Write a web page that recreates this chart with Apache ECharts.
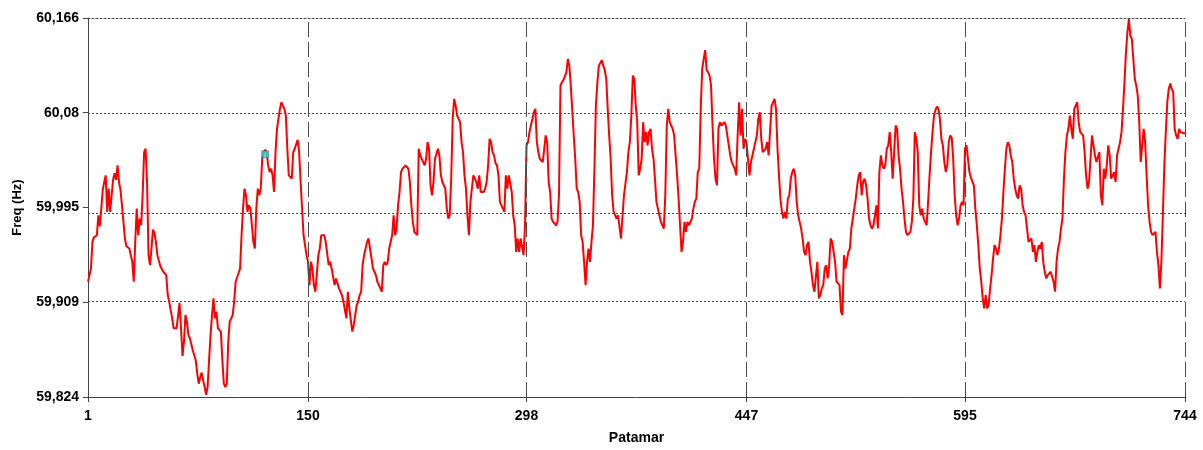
<!DOCTYPE html>
<html>
<head>
<meta charset="utf-8">
<script src="https://cdn.jsdelivr.net/npm/echarts@6/dist/echarts.min.js"></script>
<style>
html,body{margin:0;padding:0;background:#fff;}
#chart{width:1203px;height:450px;}
</style>
</head>
<body>
<div id="chart"></div>
<script>
// Patamar (hour index) readings and frequency values
const patamar = [
1,2,3,4,5,7,8,9,10,11,
12,13,14,15,16,17,18,19,20,21,
22,23,24,25,26,27,28,29,30,31,
32,33,34,35,36,37,38,39,40,41,
42,43,44,45,46,47,48,50,52,54,
55,56,57,58,59,61,62,63,64,65,
66,67,68,69,70,72,74,75,76,77,
78,79,80,81,82,83,84,85,86,87,
88,89,91,92,93,94,95,96,97,99,
100,101,102,104,105,106,107,108,109,110,
111,113,114,115,116,117,118,119,120,121,
122,123,124,125,126,127,128,129,131,132,
133,134,135,136,137,138,139,140,141,142,
143,144,145,146,147,148,149,150,151,152,
153,154,155,157,158,159,161,162,164,165,
166,168,169,171,173,174,176,177,178,180,
181,183,184,185,186,187,188,190,191,192,
193,194,195,196,197,199,200,201,202,203,
204,205,207,208,209,210,211,212,213,214,
216,217,218,219,220,221,222,224,225,226,
228,229,230,231,232,233,234,235,236,238,
239,240,241,243,244,245,246,247,248,249,
250,251,253,254,255,256,257,258,259,260,
261,262,263,264,265,266,267,269,270,271,
272,273,274,275,276,277,278,279,280,281,
282,283,284,285,286,288,289,290,291,292,
293,294,296,297,298,299,300,301,302,303,
304,305,306,307,309,310,311,312,313,314,
315,316,318,319,320,321,322,323,324,325,
326,327,328,330,331,332,333,334,335,336,
337,338,339,340,341,342,343,344,345,346,
347,349,350,351,352,353,354,355,356,357,
359,360,361,362,363,364,366,367,368,369,
370,371,372,373,374,375,376,377,378,379,
380,381,382,383,384,385,386,387,388,389,
390,391,392,393,394,395,396,397,398,399,
400,401,402,403,404,405,406,407,408,410,
411,412,413,414,415,416,417,418,419,420,
421,422,423,424,425,426,427,428,429,430,
431,432,433,434,435,436,437,438,439,440,
441,442,443,444,445,446,447,448,449,450,
451,452,453,454,455,456,457,458,459,460,
461,462,463,464,465,466,467,468,469,470,
471,472,473,474,475,476,477,478,479,480,
481,482,483,484,485,486,487,488,489,490,
491,492,493,494,495,496,497,498,499,500,
501,502,503,504,505,506,507,508,509,510,
511,512,513,514,515,516,517,518,519,520,
521,522,523,524,525,526,527,528,529,530,
531,532,533,534,535,536,537,538,539,540,
541,542,543,544,545,546,547,548,549,550,
551,552,553,554,555,556,557,558,559,560,
561,562,563,564,565,566,567,568,569,570,
571,572,573,574,575,576,577,578,579,580,
581,582,583,584,585,586,587,588,589,590,
591,592,593,594,595,596,597,598,599,600,
601,602,603,604,605,606,607,608,609,610,
611,612,613,614,615,616,617,618,619,620,
621,622,623,624,625,626,627,628,629,630,
631,632,633,634,635,636,637,638,639,640,
641,642,643,644,645,646,647,648,649,650,
651,652,653,654,655,656,657,658,659,660,
661,662,663,664,665,666,667,668,669,670,
671,672,673,674,675,676,677,678,679,680,
681,682,683,684,685,686,687,688,689,690,
691,692,693,694,695,696,697,698,699,700,
701,702,703,704,705,706,707,708,709,710,
711,712,713,714,715,716,717,718,719,720,
721,722,723,724,725,726,727,728,729,730,
731,732,733,734,735,736,737,738,739,740,
741,742,743,744
];
const freqHz = [
59.928,59.934,59.940,59.964,59.968,59.970,59.988,59.978,59.994,60.011,
60.018,60.024,59.991,60.012,59.991,60.006,60.020,60.026,60.020,60.033,
60.018,60.011,59.997,59.982,59.967,59.960,59.960,59.958,59.958,59.946,
59.928,59.964,59.994,59.970,59.985,59.979,60.006,60.045,60.048,60.018,
59.952,59.943,59.958,59.975,59.972,59.964,59.952,59.942,59.937,59.934,
59.916,59.910,59.910,59.895,59.886,59.886,59.886,59.909,59.886,59.861,
59.874,59.898,59.892,59.880,59.877,59.866,59.857,59.845,59.836,59.842,
59.846,59.839,59.833,59.826,59.833,59.857,59.880,59.898,59.913,59.895,
59.901,59.886,59.883,59.857,59.836,59.833,59.836,59.874,59.892,59.898,
59.910,59.928,59.928,59.940,59.970,59.994,60.012,60.006,59.991,59.997,
59.994,59.964,59.958,59.994,60.012,60.006,60.012,60.039,60.045,60.047,
60.045,60.033,60.027,60.030,60.024,60.009,60.045,60.066,60.084,60.090,
60.087,60.084,60.078,60.048,60.024,60.023,60.021,60.045,60.048,60.048,
60.056,60.045,60.018,59.994,59.970,59.961,59.952,59.946,59.925,59.946,
59.940,59.925,59.919,59.952,59.958,59.970,59.970,59.964,59.943,59.946,
59.940,59.925,59.931,59.922,59.916,59.910,59.895,59.919,59.904,59.883,
59.889,59.907,59.910,59.916,59.919,59.943,59.952,59.964,59.967,59.958,
59.949,59.940,59.937,59.934,59.928,59.922,59.919,59.943,59.946,59.943,
59.946,59.958,59.970,59.988,59.970,59.976,59.997,60.009,60.027,60.030,
60.033,60.033,60.030,60.018,59.997,59.982,59.973,59.970,60.048,60.042,
60.036,60.033,60.039,60.054,60.048,60.015,60.006,60.018,60.039,60.048,
60.042,60.024,60.018,60.012,59.994,59.985,59.988,60.021,60.075,60.093,
60.087,60.078,60.072,60.054,60.045,60.024,60.012,59.988,59.970,60.000,
60.012,60.024,60.021,60.018,60.012,60.024,60.009,60.009,60.012,60.018,
60.033,60.057,60.054,60.045,60.042,60.035,60.033,60.024,60.000,59.997,
59.994,59.991,60.024,60.012,60.024,60.009,59.988,59.979,59.955,59.967,
59.955,59.967,59.952,59.979,60.051,60.054,60.063,60.069,60.075,60.081,
60.084,60.054,60.045,60.039,60.036,60.048,60.060,60.054,60.018,60.009,
59.985,59.982,59.979,59.982,60.006,60.105,60.108,60.110,60.111,60.117,
60.129,60.123,60.105,60.060,60.039,60.012,60.009,60.000,59.970,59.964,
59.946,59.925,59.946,59.958,59.946,59.964,59.979,60.030,60.087,60.108,
60.123,60.128,60.123,60.119,60.111,60.084,60.060,60.039,60.006,59.991,
59.985,59.988,59.988,59.967,59.967,60.006,60.027,60.045,60.054,60.078,
60.114,60.111,60.087,60.072,60.024,60.030,60.039,60.072,60.054,60.063,
60.051,60.063,60.066,60.048,60.039,60.021,60.000,59.994,59.988,59.982,
59.979,59.976,60.006,60.069,60.084,60.072,60.069,60.066,60.060,60.042,
60.024,60.003,59.979,59.955,59.964,59.982,59.973,59.982,59.979,59.985,
59.994,60.000,60.003,60.027,60.030,60.084,60.120,60.129,60.137,60.119,
60.117,60.114,60.105,60.069,60.039,60.021,60.015,60.066,60.072,60.069,
60.069,60.072,60.069,60.060,60.051,60.042,60.036,60.036,60.030,60.024,
60.060,60.090,60.060,60.084,60.048,60.057,60.054,60.039,60.024,60.036,
60.042,60.042,60.054,60.060,60.075,60.081,60.057,60.045,60.045,60.048,
60.054,60.042,60.042,60.087,60.090,60.093,60.084,60.048,60.024,60.003,
59.991,59.985,59.991,59.985,60.003,60.006,60.021,60.027,60.030,60.024,
60.000,59.988,59.982,59.976,59.967,59.955,59.952,59.961,59.964,59.946,
59.937,59.925,59.919,59.919,59.946,59.913,59.916,59.922,59.925,59.940,
59.943,59.931,59.943,59.967,59.964,59.955,59.946,59.928,59.928,59.925,
59.901,59.898,59.952,59.940,59.940,59.955,59.958,59.976,59.985,59.994,
60.003,60.015,60.024,60.027,60.006,60.018,60.021,60.015,60.003,59.985,
59.979,59.976,59.979,59.988,59.997,59.976,60.027,60.042,60.033,60.030,
60.033,60.048,60.051,60.063,60.045,60.021,60.021,60.069,60.066,60.042,
60.030,60.012,60.000,59.985,59.973,59.970,59.970,59.973,59.982,60.003,
60.063,60.057,60.045,59.997,59.988,59.994,59.985,59.982,59.979,60.000,
60.024,60.045,60.063,60.078,60.083,60.086,60.084,60.075,60.057,60.051,
60.036,60.027,60.033,60.054,60.060,60.058,60.039,60.006,59.988,59.979,
59.985,59.997,60.000,59.997,60.048,60.051,60.039,60.027,60.022,60.021,
60.015,59.994,59.979,59.961,59.940,59.928,59.913,59.904,59.916,59.904,
59.907,59.922,59.934,59.949,59.961,59.958,59.952,59.958,59.970,59.985,
60.009,60.030,60.048,60.054,60.051,60.042,60.036,60.021,60.012,60.006,
60.003,60.015,60.012,59.997,59.991,59.988,59.976,59.964,59.964,59.967,
59.955,59.961,59.946,59.955,59.961,59.958,59.964,59.946,59.937,59.931,
59.934,59.934,59.937,59.937,59.928,59.919,59.946,59.958,59.964,59.976,
59.985,60.021,60.045,60.060,60.066,60.078,60.066,60.057,60.084,60.087,
60.090,60.072,60.063,60.063,60.060,60.045,60.024,60.012,60.018,60.039,
60.060,60.060,60.042,60.036,60.036,60.045,60.006,59.997,60.030,60.021,
60.033,60.051,60.042,60.021,60.024,60.027,60.018,60.042,60.048,60.054,
60.063,60.084,60.108,60.135,60.153,60.165,60.150,60.147,60.129,60.111,
60.105,60.096,60.072,60.036,60.051,60.066,60.054,60.024,59.997,59.982,
59.973,59.970,59.970,59.973,59.955,59.943,59.922,59.946,59.988,60.033,
60.063,60.090,60.102,60.107,60.102,60.099,60.066,60.060,60.057,60.066,
60.063,60.063,60.062,60.062
];
// highlighted point (cyan marker)
const markerPoint = [121, 60.043];

// axis ticks
const xTicks = [1, 150, 298, 447, 595, 744];
const yTicks = [59.824, 59.9095, 59.995, 60.0805, 60.166];
const yTickLabels = ['59,824', '59,909', '59,995', '60,08', '60,166'];
const xMin = 1, xMax = 744, yMin = 59.824, yMax = 60.166;

const seriesData = patamar.map((p, i) => [p, freqHz[i]]);

const FONT = "'Liberation Sans', Arial, sans-serif";
const chart = echarts.init(document.getElementById('chart'), null, {renderer: 'canvas'});

const gridLines = [];
xTicks.slice(1).forEach(v => gridLines.push({
  xAxis: v,
  lineStyle: {type: [15, 5], color: '#4a4a4a', width: 1}
}));
yTicks.slice(1, -1).forEach(v => gridLines.push({
  yAxis: v,
  lineStyle: {type: [2, 2], color: '#4a4a4a', width: 1}
}));

chart.setOption({
  animation: false,
  backgroundColor: '#ffffff',
  grid: {left: 88, right: 18, top: 18, bottom: 50, containLabel: false},
  xAxis: [{
    type: 'value',
    min: xMin, max: xMax,
    name: 'Patamar',
    nameLocation: 'middle',
    nameGap: 34,
    nameTextStyle: {fontFamily: FONT, fontWeight: 'bold', fontSize: 14, color: '#000'},
    axisLine: {show: true, lineStyle: {color: '#444', width: 1}},
    axisTick: {show: true, length: 5, customValues: xTicks, lineStyle: {color: '#444'}},
    axisLabel: {
      customValues: xTicks,
      margin: 12,
      fontFamily: FONT, fontWeight: 'bold', fontSize: 14, color: '#000',
      formatter: v => String(v)
    },
    splitLine: {show: false}
  }, {
    // top border of the plot: dotted gridline at the y maximum
    type: 'value',
    position: 'top',
    min: xMin, max: xMax,
    axisLine: {show: true, lineStyle: {color: '#4a4a4a', width: 1, type: [2, 2]}},
    axisTick: {show: false},
    axisLabel: {show: false},
    splitLine: {show: false}
  }],
  yAxis: {
    type: 'value',
    min: yMin, max: yMax,
    name: 'Freq (Hz)',
    nameLocation: 'middle',
    nameGap: 64,
    nameRotate: 90,
    nameTextStyle: {fontFamily: FONT, fontWeight: 'bold', fontSize: 13, color: '#000'},
    axisLine: {show: true, lineStyle: {color: '#444', width: 1}},
    axisTick: {show: true, length: 5, customValues: yTicks, lineStyle: {color: '#444'}},
    axisLabel: {
      customValues: yTicks,
      margin: 9,
      fontFamily: FONT, fontWeight: 'bold', fontSize: 14, color: '#000',
      formatter: v => {
        let best = 0, bd = Infinity;
        yTicks.forEach((t, i) => { const d = Math.abs(t - v); if (d < bd) { bd = d; best = i; } });
        return yTickLabels[best];
      }
    },
    splitLine: {show: false}
  },
  series: [
    {
      type: 'line',
      z: 1,
      data: [],
      silent: true,
      markLine: {
        silent: true,
        symbol: ['none', 'none'],
        label: {show: false},
        emphasis: {disabled: true},
        animation: false,
        data: gridLines
      }
    },
    {
      type: 'line',
      z: 3,
      data: seriesData,
      showSymbol: false,
      symbol: 'none',
      lineStyle: {color: '#ff0000', width: 2},
      itemStyle: {color: '#ff0000'},
      silent: true
    },
    {
      type: 'scatter',
      z: 4,
      data: [markerPoint],
      symbol: 'rect',
      symbolSize: 7,
      itemStyle: {color: '#1ed8d8', borderColor: '#2a5a5a', borderWidth: 0.6},
      silent: true
    }
  ]
});
</script>
</body>
</html>
